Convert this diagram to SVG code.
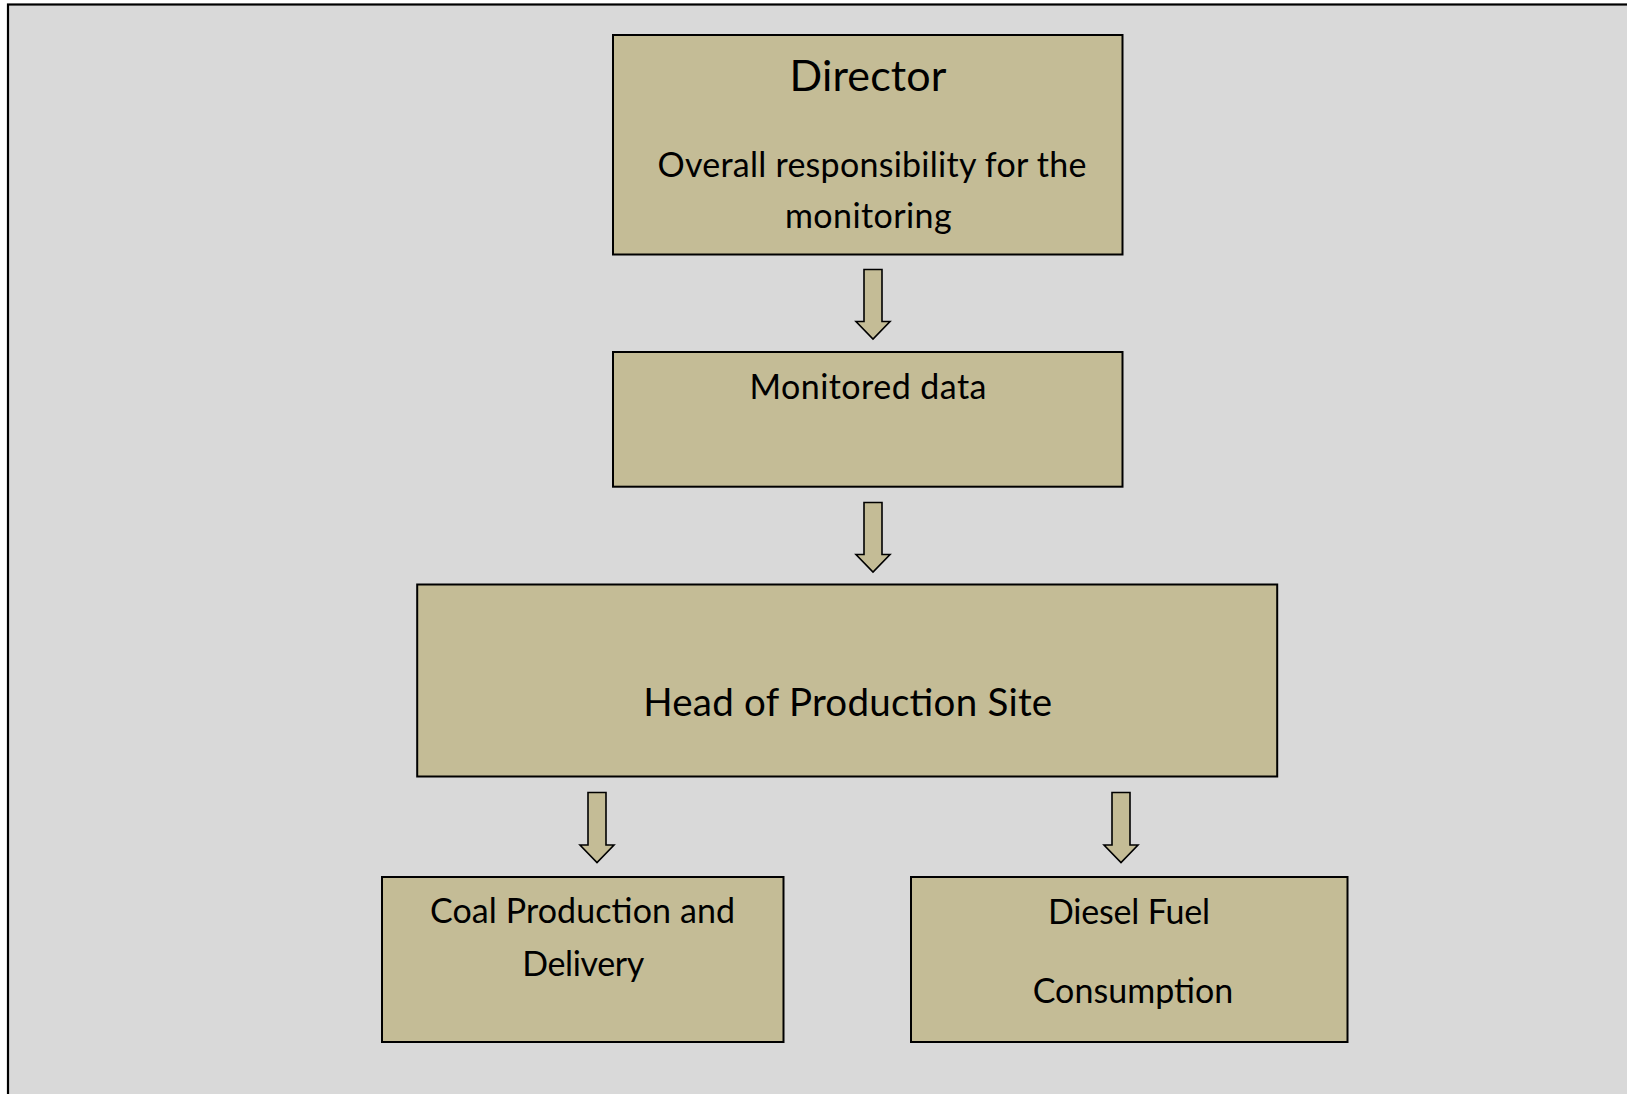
<svg xmlns="http://www.w3.org/2000/svg" width="1627" height="1094" viewBox="0 0 1627 1094">
<style>
.box{fill:#C4BC96;stroke:#000;stroke-width:2}
.arr{fill:#C4BC96;stroke:#000;stroke-width:1.6;stroke-linejoin:miter}
.t{font-family:Lato,"Open Sans","Liberation Sans",sans-serif;font-size:34px;fill:#000;text-anchor:middle}
.big{font-size:43px}
.mid{font-size:38.5px}
</style>
<rect x="0" y="0" width="1627" height="1094" fill="#FFFFFF"/>
<rect x="8" y="4.5" width="1640" height="1100" fill="#D9D9D9" stroke="#000" stroke-width="2.2"/>
<g id="connectors">
<path class="arr" d="M864,269.5 H882 V321.5 H890 L873,339 L856,321.5 H864 Z"/>
<path class="arr" d="M864,502.5 H882 V554.5 H890 L873,572 L856,554.5 H864 Z"/>
<path class="arr" d="M588,792.5 H606 V845 H614 L597,862.5 L580,845 H588 Z"/>
<path class="arr" d="M1112,792.5 H1130 V845 H1138 L1121,862.5 L1104,845 H1112 Z"/>
</g>
<g id="director">
<rect class="box" x="613" y="35" width="509.5" height="219.5"/>
<text class="t big" x="868" y="91" textLength="157" lengthAdjust="spacing">Director</text>
<text class="t" x="872" y="176.7" textLength="429" lengthAdjust="spacing">Overall responsibility for the</text>
<text class="t" x="868.3" y="228.3" textLength="166.7" lengthAdjust="spacing">monitoring</text>
</g>
<g id="monitored-data">
<rect class="box" x="613" y="352" width="509.5" height="134.7"/>
<text class="t" x="868" y="399.3" textLength="237" lengthAdjust="spacing">Monitored data</text>
</g>
<g id="head-of-production-site">
<rect class="box" x="417.2" y="584.5" width="860" height="192"/>
<text class="t mid" x="847.7" y="715.8" textLength="409" lengthAdjust="spacing">Head of Production Site</text>
</g>
<g id="coal-production">
<rect class="box" x="382" y="877" width="401.5" height="165"/>
<text class="t" x="582.5" y="923.3" textLength="305" lengthAdjust="spacing">Coal Production and</text>
<text class="t" x="583.3" y="975.7" textLength="122" lengthAdjust="spacing">Delivery</text>
</g>
<g id="diesel-fuel">
<rect class="box" x="911" y="877" width="436.5" height="165"/>
<text class="t" x="1129" y="924" textLength="162" lengthAdjust="spacing">Diesel Fuel</text>
<text class="t" x="1133" y="1002.7" textLength="200.7" lengthAdjust="spacing">Consumption</text>
</g>
</svg>
